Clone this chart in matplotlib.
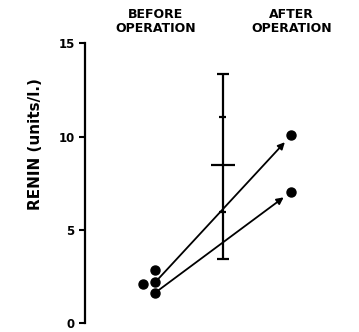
import numpy as np
import matplotlib.pyplot as plt

categories = ['BEFORE\nOPERATION', 'AFTER\nOPERATION']
before_values = [2.08, 2.86, 2.19, 1.63]
after_values = [10.08, 7.05]
# which before point goes with which after point (arrows)
pairs = [(2, 0), (3, 1)]
mean_value = 8.47
sd_range = [3.45, 13.38]
se_range = [5.93, 11.05]
y_ticks = [0, 5, 10, 15]

before_jitter = [-0.093, 0.0, 0.0, 0.0]

fig = plt.figure(figsize=(3.59, 3.32), dpi=100)
ax = fig.add_axes([0.2368, 0.027, 0.7632, 0.8426])

bx = np.array(before_jitter) + 0
ax.plot(bx, before_values, 'o', color='black', markersize=6.5, clip_on=False, zorder=3)
ax.plot([1] * len(after_values), after_values, 'o', color='black', markersize=6.5, clip_on=False, zorder=3)

for b, a in pairs:
    ax.annotate('', xy=(1, after_values[a]), xytext=(bx[b], before_values[b]),
                arrowprops=dict(arrowstyle='-|>', color='black', lw=1.3,
                                mutation_scale=10, shrinkA=0, shrinkB=7))

# error bar: mean, SD caps, SE ticks
xe = 0.495
ax.vlines(xe, sd_range[0], sd_range[1], color='black', lw=1.6)
ax.hlines(sd_range, xe - 0.044, xe + 0.044, color='black', lw=1.6)
ax.hlines(se_range, xe - 0.026, xe + 0.026, color='black', lw=1.6)
ax.hlines(mean_value, xe - 0.088, xe + 0.088, color='black', lw=1.6)

ax.set_xlim(-0.516, 1.496)
ax.set_ylim(0, 15)
for s in ['top', 'right', 'bottom']:
    ax.spines[s].set_visible(False)
ax.spines['left'].set_linewidth(1.6)
ax.spines['left'].set_bounds(0, 15)

ax.set_yticks(y_ticks)
ax.set_yticklabels([str(t) for t in y_ticks], fontweight='bold', fontsize=8.5)
ax.tick_params(axis='y', direction='out', length=4.5, width=1.5, pad=3)

ax.xaxis.tick_top()
ax.set_xticks([0, 1])
ax.set_xticklabels(categories, fontweight='bold', fontsize=9, linespacing=1.1)
ax.tick_params(axis='x', length=0, pad=6)

fig.text(0.098, 0.565, 'RENIN (units/l.)', rotation=90, ha='center', va='center',
         fontweight='bold', fontsize=11)

fig.savefig('out.png', dpi=100)
